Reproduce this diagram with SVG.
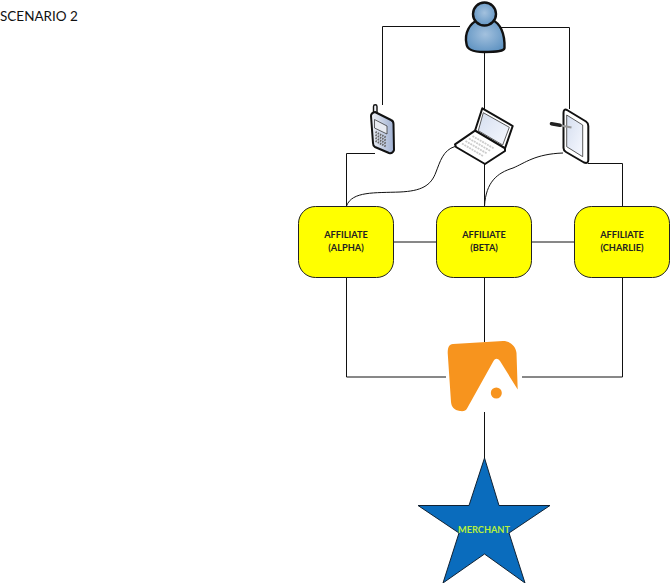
<svg xmlns="http://www.w3.org/2000/svg" width="670" height="583" viewBox="0 0 670 583">
<defs>
<radialGradient id="skin" cx="0.5" cy="0.45" r="0.6"><stop offset="0" stop-color="#a3c1de"/><stop offset="1" stop-color="#5f93c2"/></radialGradient>
<linearGradient id="glass" x1="0" y1="0" x2="1" y2="1"><stop offset="0" stop-color="#d5deef"/><stop offset="1" stop-color="#f7f9ff"/></linearGradient>
<linearGradient id="phoneBody" x1="0" y1="0" x2="1" y2="0"><stop offset="0" stop-color="#eef0f5"/><stop offset="1" stop-color="#9fb0d2"/></linearGradient>
</defs>
<style>
text{font-family:"Lato","Liberation Sans",sans-serif;fill:#111}
.box{fill:#ffff00;stroke:#222;stroke-width:1}
.lbl{font-size:9.200px;font-weight:700;text-anchor:middle;fill:#222}
.c{fill:none;stroke:#111;stroke-width:1}
.dev{stroke:#111;stroke-linejoin:round;stroke-width:2}
.key{fill:none;stroke:#666;stroke-width:2;stroke-dasharray:1.500 1}
</style>
<text x="0" y="21" font-size="13.500">SCENARIO 2</text>
<g id="connectors">
<path class="c" d="M460 26.500H382.500V105"/>
<path class="c" d="M501 27.500H569.500V109"/>
<path class="c" d="M484.500 52V109"/>
<path class="c" d="M484.500 163V206"/>
<path class="c" d="M375 153.500H346.500V206"/>
<path class="c" d="M588 163.500H622.500V206"/>
<path class="c" d="M455 146.500C443 150 440 162 436 172C431 186 421 191 400 192C375 193 352 191 346.500 206"/>
<path class="c" d="M563 153C535 154 525 163 513 168C497 173 486 182 484.500 206"/>
<path class="c" d="M393 242H437M531 242H575"/>
<path class="c" d="M346.500 277V377H446"/>
<path class="c" d="M622.500 277V377H522"/>
<path class="c" d="M484.500 277V342"/>
<path class="c" d="M484.500 412V458"/>
</g>
<g id="user">
<path d="M466.500 44C464 33 470 23 478 20C483 24 488 24 492 20C500 23 505 33 504.500 48C504 51 498 52 484 52C473 52 467 50 466.500 44Z" fill="url(#skin)" stroke="#111" stroke-width="2.400"/>
<circle cx="484.500" cy="14" r="11.500" fill="url(#skin)" stroke="#111" stroke-width="2.400"/>
</g>
<g id="phone">
<path d="M373.500 113V106.500A1.500 1.500 0 0 1 377 106.500V113Z" fill="#eef0f5" stroke="#111" stroke-width="1.400"/>
<path class="dev" d="M371 116Q371 113 375 112L391 120Q393.500 121 393.500 124L394 150Q393 154 389 153L375 147Q373 146 373 143Z" fill="url(#phoneBody)"/>
<path d="M374.500 119.500L387 126V134L374.500 128Z" fill="#e8ebf2" stroke="#222" stroke-width=".7"/>
<path class="key" d="M375.500 132L386 137.500M375.500 135L386 140.500M375.500 138L386 143.500M375.500 141L386 146.500"/>
</g>
<g id="laptop">
<path class="dev" d="M482.300 108.300L512.700 126L505 148.300L475 130.700Z" fill="#fff"/>
<path d="M483.300 112.700L509.300 127.300L502.700 145L478.300 130.700Z" fill="url(#glass)" stroke="#333" stroke-width=".8"/>
<path class="dev" d="M475 130.700L455 144.300L456 147L485 164L505 151V148.300Z" fill="#fff"/>
<path d="M472.500 136L494 148.500M469 138.500L490.500 151M465.500 141L487 153.500M462 143.500L483 156" fill="none" stroke="#ccc" stroke-width="1.800" stroke-dasharray="2 .8"/>
</g>
<g id="tablet">
<path class="dev" d="M563.500 113Q563.500 108.500 567 110L586 121.500Q588.300 123 588.300 126V160Q588.300 164 584 162.500L566 152Q563.500 150.500 563.500 148Z" fill="#fff"/>
<path d="M566.700 115L582.700 125V156.700L566.700 146.700Z" fill="url(#glass)" stroke="#333" stroke-width=".8"/>
<path d="M552 123.800L571.500 127.500" fill="none" stroke="#999" stroke-width="2.200"/>
<path d="M551.500 123.700L560 125.300" fill="none" stroke="#222" stroke-width="3.600" stroke-linecap="round"/>
</g>
<g id="alpha">
<rect class="box" x="298.500" y="206.500" width="95" height="71" rx="17"/>
<text class="lbl" x="346" y="238">AFFILIATE</text><text class="lbl" x="346" y="251">(ALPHA)</text>
</g>
<g id="beta">
<rect class="box" x="436.500" y="206.500" width="95" height="71" rx="17"/>
<text class="lbl" x="484" y="238">AFFILIATE</text><text class="lbl" x="484" y="251">(BETA)</text>
</g>
<g id="charlie">
<rect class="box" x="574.500" y="206.500" width="95" height="71" rx="17"/>
<text class="lbl" x="622" y="238">AFFILIATE</text><text class="lbl" x="622" y="251">(CHARLIE)</text>
</g>
<g id="logo">
<path d="M447.700 353C447.700 347 449 344.500 453 344L503 341C510 341 516 346 516.500 353L517.700 389.500L500 361C497.500 358 495.500 358 493.500 361L467.300 408C466 411 463 411.500 460 411C454 410 451.500 407 451 402Z" fill="#f7941e"/>
<circle cx="496.300" cy="393" r="5.500" fill="#f7941e"/>
</g>
<g id="merchant">
<path d="M484.500 458L499 505.500H550L509 533L525 583L484.500 554L443 583L459 533L418 505.500H469Z" fill="#0a6cbd" stroke="#123" stroke-width="1"/>
<text x="484" y="533" font-size="9.200" font-weight="700" text-anchor="middle" style="fill:#b7f03c">MERCHANT</text>
</g>
</svg>
